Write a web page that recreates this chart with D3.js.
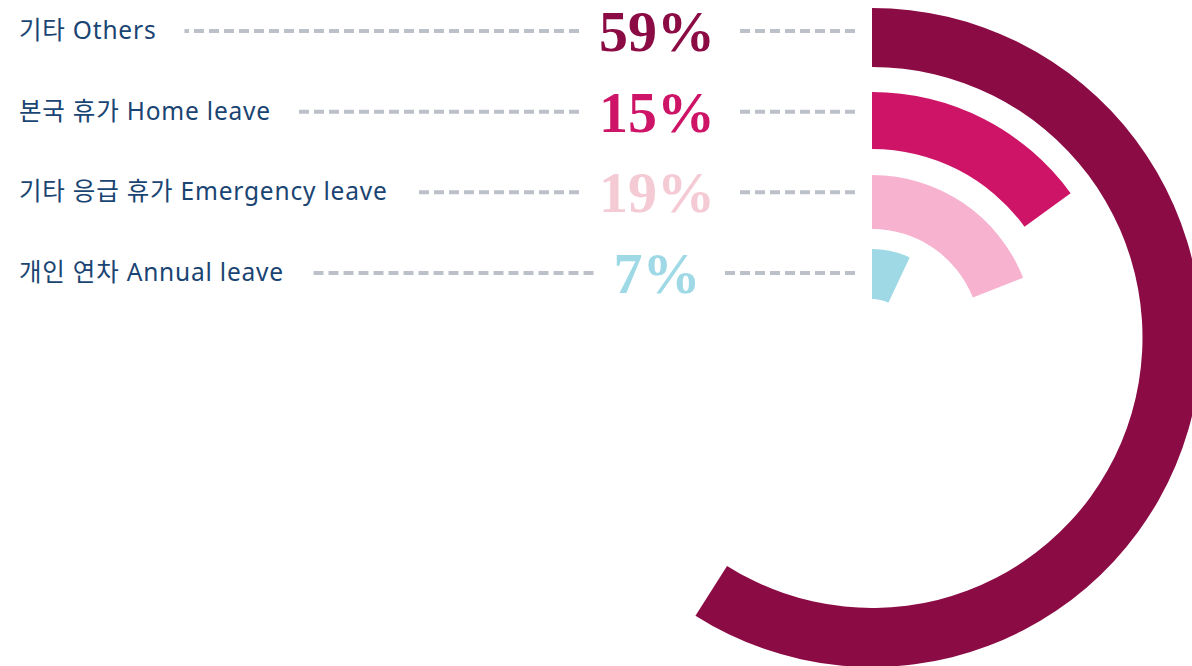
<!DOCTYPE html>
<html><head><meta charset="utf-8">
<script src="https://cdn.jsdelivr.net/npm/d3@7"></script>
<style>
html,body{margin:0;padding:0;background:#fff;}
svg{display:block;}
</style></head>
<body>
<svg id="chart" width="1192" height="666"></svg>
<script>
const labels = ["기타 Others", "본국 휴가 Home leave", "기타 응급 휴가 Emergency leave", "개인 연차 Annual leave"];
const values = [59, 15, 19, 7];
const ringColors = ["#8B0B45", "#CD1467", "#F7B2D0", "#9ED9E5"];
const textColors = ["#8B0B45", "#CD1467", "#F4CBD5", "#9ED9E5"];
const innerR = [270.5, 188.5, 108.5, 38.5];
const outerR = [329.5, 245.5, 162.5, 88.5];

const svg = d3.select("#chart");
const cx = 872, cy = 337.5;

const angle = d3.scaleLinear().domain([0, 100]).range([0, 2 * Math.PI]);
const rowY = d3.scalePoint().domain(d3.range(labels.length)).range([31, 273]);

const arc = d3.arc();
const g = svg.append("g").attr("transform", `translate(${cx},${cy})`);
g.selectAll("path").data(values).join("path")
  .attr("d", (v, i) => arc({innerRadius: innerR[i], outerRadius: outerR[i], startAngle: 0, endAngle: angle(v)}))
  .attr("fill", (v, i) => ringColors[i]);

const pctX = 657;
const lineEnd = 855;
const dashColor = "#BCC1C9";

labels.forEach((lab, i) => {
  const y = rowY(i);
  const t = svg.append("text")
    .attr("x", 19).attr("y", y + 8)
    .attr("font-family", "'Noto Sans', 'Noto Sans CJK KR', sans-serif")
    .attr("font-size", 24.5)
    .attr("letter-spacing", 0.8)
    .attr("fill", "#1A4472")
    .text(lab);
  const labEnd = 19 + t.node().getComputedTextLength();

  const p = svg.append("text")
    .attr("x", pctX).attr("y", y + 20)
    .attr("text-anchor", "middle")
    .attr("font-family", "'Liberation Serif', 'DejaVu Serif', serif")
    .attr("font-weight", "bold")
    .attr("font-size", 58)
    .attr("fill", textColors[i])
    .text(values[i] + "%");
  const pw = p.node().getComputedTextLength();
  const pl = pctX - pw / 2, pr = pctX + pw / 2;

  svg.append("line")
    .attr("x1", pl - 20).attr("x2", labEnd + 28)
    .attr("y1", y).attr("y2", y)
    .attr("stroke", dashColor).attr("stroke-width", 4)
    .attr("stroke-dasharray", "10,5");
  svg.append("line")
    .attr("x1", lineEnd).attr("x2", pr + 22)
    .attr("y1", y).attr("y2", y)
    .attr("stroke", dashColor).attr("stroke-width", 4)
    .attr("stroke-dasharray", "10,5");
});
</script>
</body></html>
